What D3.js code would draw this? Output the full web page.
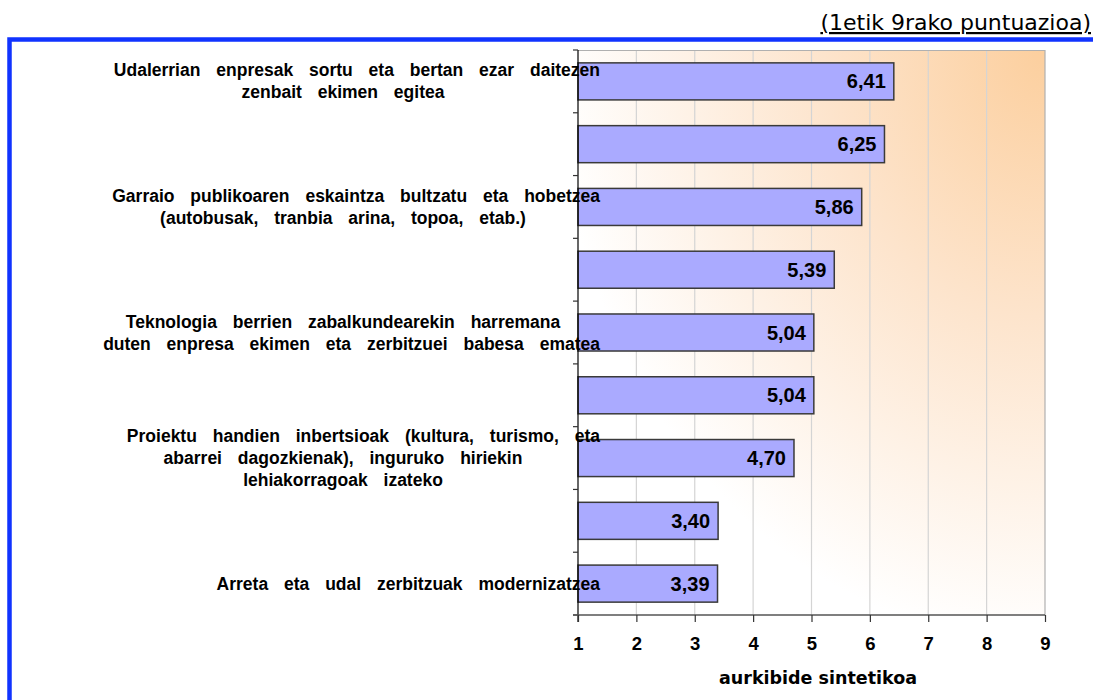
<!DOCTYPE html>
<html>
<head>
<meta charset="utf-8">
<script src="https://cdn.jsdelivr.net/npm/d3@7"></script>
<style>
  body { margin: 0; background: #fff; }
  svg { display: block; }
</style>
</head>
<body>
<div id="chart"></div>
<script>
'use strict';

// category labels (one entry per bar, split into lines; empty = no label shown)
const categoryLines = [
    ['Udalerrian enpresak sortu eta bertan ezar daitezen', 'zenbait ekimen egitea'],
    [],
    ['Garraio publikoaren eskaintza bultzatu eta hobetzea', '(autobusak, tranbia arina, topoa, etab.)'],
    [],
    ['Teknologia berrien zabalkundearekin harremana', 'duten enpresa ekimen eta zerbitzuei babesa ematea'],
    [],
    ['Proiektu handien inbertsioak (kultura, turismo, eta', 'abarrei dagozkienak), inguruko hiriekin', 'lehiakorragoak izateko'],
    [],
    ['Arreta eta udal zerbitzuak modernizatzea']
];
const values = [6.41, 6.25, 5.86, 5.39, 5.04, 5.04, 4.70, 3.40, 3.39];
const xTicks = [1, 2, 3, 4, 5, 6, 7, 8, 9];
const unitNote = '(1etik 9rako puntuazioa)';
const xTitle = 'aurkibide sintetikoa';

(function() {
    let width = 1093, height = 700;
    let margin = { top: 50, right: 48, bottom: 85, left: 578 };
    let innerW = width - margin.left - margin.right,
        innerH = height - margin.top - margin.bottom;

    let svg = d3.select('#chart').append('svg')
        .attr('width', width)
        .attr('height', height);

    let defs = svg.append('defs');
    let grad = defs.append('radialGradient')
        .attr('id', 'bg')
        .attr('cx', 1).attr('cy', 0).attr('r', 1.05)
        .attr('fx', 1).attr('fy', 0);
    grad.append('stop').attr('offset', '0%').attr('stop-color', '#fccf9e');
    grad.append('stop').attr('offset', '45%').attr('stop-color', '#fde4cc');
    grad.append('stop').attr('offset', '100%').attr('stop-color', '#ffffff');

    // unit note, top right, ending right at the page edge
    svg.append('text')
        .attr('x', 1091).attr('y', 30)
        .attr('text-anchor', 'end')
        .style('font-family', 'DejaVu Sans, Verdana, sans-serif')
        .style('font-size', '22px')
        .style('text-decoration', 'underline')
        .text(unitNote);

    // blue frame
    svg.append('rect')
        .attr('x', 9.5).attr('y', 39.5)
        .attr('width', 1200).attr('height', 800)
        .attr('fill', 'none')
        .attr('stroke', '#1133ff')
        .attr('stroke-width', 4.5);

    let g = svg.append('g')
        .attr('transform', 'translate(' + margin.left + ',' + margin.top + ')');

    let x = d3.scaleLinear().domain([1, 9]).range([0, innerW]);
    let y = d3.scaleBand().domain(d3.range(values.length)).range([0, innerH]).paddingInner(0.41).paddingOuter(0.205);

    // plot background
    g.append('rect')
        .attr('width', innerW).attr('height', innerH)
        .attr('fill', 'url(#bg)');

    // vertical grid
    g.selectAll('.grid')
        .data(xTicks.slice(1))
        .enter().append('line')
        .attr('x1', d => x(d)).attr('x2', d => x(d))
        .attr('y1', 0).attr('y2', innerH)
        .attr('stroke', d => d === 9 ? '#b0b0b0' : '#d4d4d4')
        .attr('stroke-width', 1.2);
    g.append('line')
        .attr('x1', 0).attr('x2', innerW).attr('y1', 0.5).attr('y2', 0.5)
        .attr('stroke', '#b0b0b0').attr('stroke-width', 1.2);

    // bars
    g.selectAll('.bar')
        .data(values)
        .enter().append('rect')
        .attr('x', x(1))
        .attr('y', (d, i) => y(i))
        .attr('width', d => x(d) - x(1))
        .attr('height', y.bandwidth())
        .attr('fill', '#aaaaff')
        .attr('stroke', '#3a3a3a')
        .attr('stroke-width', 1.5);

    // category labels: widest line ends just past the axis (it overlaps the bar,
    // like the original), shorter lines are centred under it
    let step = y.step();
    let labelRight = 22, labelCenter = -235;
    categoryLines.forEach(function(lines, i) {
        if (!lines.length) return;
        let cy = y(i) + y.bandwidth() / 2;
        let t = g.append('text')
            .style('font-family', 'Liberation Sans, Arial, sans-serif')
            .style('font-weight', 'bold')
            .style('font-size', '17.5px')
            .style('word-spacing', '11px');
        let spans = lines.map(function(line, k) {
            return t.append('tspan')
                .attr('y', cy + (k - (lines.length - 1) / 2) * 22 + 6)
                .text(line);
        });
        let widths = spans.map(s => s.node().getComputedTextLength());
        let widest = d3.max(widths);
        spans.forEach(function(s, k) {
            if (widths[k] === widest) {
                s.attr('x', labelRight - widths[k]);
            } else {
                s.attr('x', labelCenter - widths[k] / 2);
            }
        });
    });

    // value labels
    g.selectAll('.val')
        .data(values)
        .enter().append('text')
        .attr('x', d => x(d) - 8)
        .attr('y', (d, i) => y(i) + y.bandwidth() / 2 + 7)
        .attr('text-anchor', 'end')
        .style('font-family', 'Liberation Sans, Arial, sans-serif')
        .style('font-weight', 'bold')
        .style('font-size', '20px')
        .text(d => d.toFixed(2).replace('.', ','));

    // y axis
    let yTickPos = d3.range(values.length + 1).map(i => i * step);
    g.append('line')
        .attr('x1', 0).attr('x2', 0).attr('y1', 0).attr('y2', innerH + 7)
        .attr('stroke', '#000').attr('stroke-width', 1.2);
    g.selectAll('.ytick')
        .data(yTickPos)
        .enter().append('line')
        .attr('x1', -5).attr('x2', 0)
        .attr('y1', d => d).attr('y2', d => d)
        .attr('stroke', '#333').attr('stroke-width', 1.2);

    // x axis
    let xAxis = g.append('g')
        .attr('transform', 'translate(0,' + innerH + ')')
        .call(d3.axisBottom(x).tickValues(xTicks).tickSize(7).tickPadding(15).tickFormat(d3.format('d')));
    xAxis.select('.domain').attr('stroke', '#555').attr('stroke-width', 1.5).attr('d', 'M-5,0H' + innerW);
    xAxis.selectAll('.tick line').attr('stroke', '#333').attr('stroke-width', 1.2);
    xAxis.selectAll('.tick text')
        .style('font-family', 'Liberation Sans, Arial, sans-serif')
        .style('font-weight', 'bold')
        .style('font-size', '18.5px')
        .attr('fill', '#000');

    svg.append('text')
        .attr('x', 818).attr('y', 684)
        .attr('text-anchor', 'middle')
        .style('font-family', 'DejaVu Sans, Verdana, sans-serif')
        .style('font-weight', 'bold')
        .style('font-size', '17.5px')
        .text(xTitle);
})();
</script>
</body>
</html>
